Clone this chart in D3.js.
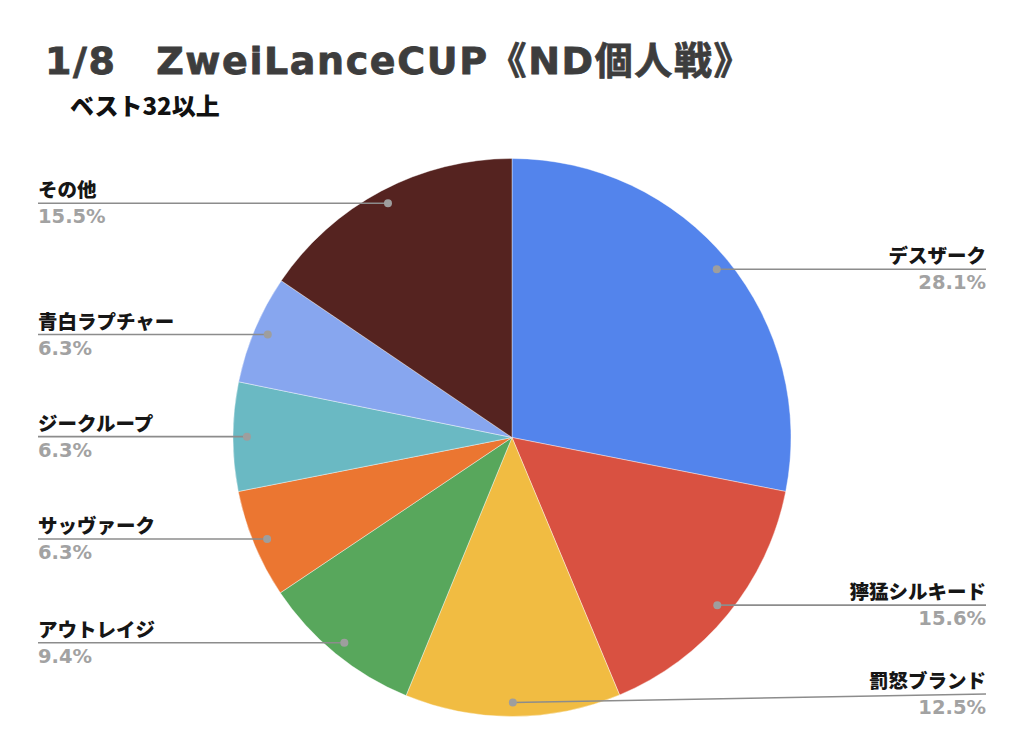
<!DOCTYPE html>
<html>
<head>
<meta charset="utf-8">
<script src="https://cdn.jsdelivr.net/npm/d3@7"></script>
<style>
  body { margin: 0; background: #fff; }
  svg { display: block; }
  .latin { font-family: "DejaVu Sans", "Noto Sans CJK JP", sans-serif; font-weight: bold; }
</style>
</head>
<body>
<svg id="chart" width="1024" height="739"></svg>
<script>
const titleText = '1/8\u3000ZweiLanceCUP《ND個人戦》';
const subtitleText = 'ベスト32以上';

const names = ['デスザーク', '獰猛シルキード', '罰怒ブランド', 'アウトレイジ', 'サッヴァーク', 'ジークループ', '青白ラプチャー', 'その他'];
const shares = [28.1, 15.6, 12.5, 9.4, 6.3, 6.3, 6.3, 15.5];
const colors = ['#5384ec', '#d95141', '#f1bc42', '#58a75c', '#eb7631', '#6ab9c3', '#87a6ef', '#552320'];

const svg = d3.select('#chart');

const cx = 512;
const cy = 437.5;
const radius = 279;
const dotRadius = radius * 0.95;
const leftX = 38;
const rightX = 986;
const maxLineY = 694;

svg.append('text')
  .attr('class', 'latin')
  .attr('x', 45)
  .attr('y', 74)
  .attr('font-size', 38)
  .attr('letter-spacing', 1.6)
  .attr('fill', '#3d3d3d')
  .attr('stroke', '#3d3d3d')
  .attr('stroke-width', 0.8)
  .text(titleText);

svg.append('text')
  .attr('x', 70)
  .attr('y', 115)
  .attr('font-family', '"Noto Sans CJK JP", sans-serif')
  .attr('font-weight', 900)
  .attr('font-size', 24)
  .attr('fill', '#111')
  .text(subtitleText);

const data = names.map((name, i) => ({ name, value: shares[i], color: colors[i] }));

const pie = d3.pie().sort(null).value((d) => d.value);
const arcs = pie(data);

const arc = d3.arc().innerRadius(0).outerRadius(radius);
const dotArc = d3.arc().innerRadius(dotRadius).outerRadius(dotRadius);

const g = svg.append('g').attr('transform', `translate(${cx},${cy})`);

g.selectAll('path')
  .data(arcs)
  .enter()
  .append('path')
  .attr('d', arc)
  .attr('fill', (d) => d.data.color)
  .attr('stroke', '#fff')
  .attr('stroke-width', 0.4);

const labels = svg.append('g');

arcs.forEach((d) => {
  const [dx, dy] = dotArc.centroid(d);
  const x = cx + dx;
  const y = cy + dy;
  const mid = (d.startAngle + d.endAngle) / 2;
  const right = mid < Math.PI;
  const lineY = Math.min(y, maxLineY);
  const tx = right ? rightX : leftX;

  labels.append('line')
    .attr('x1', x)
    .attr('y1', y)
    .attr('x2', tx)
    .attr('y2', lineY)
    .attr('stroke', '#8c8c8c')
    .attr('stroke-width', 1.6);

  labels.append('circle')
    .attr('cx', x)
    .attr('cy', y)
    .attr('r', 4)
    .attr('fill', '#9e9e9e');

  labels.append('text')
    .attr('x', tx)
    .attr('y', lineY - 6)
    .attr('text-anchor', right ? 'end' : 'start')
    .attr('font-family', '"Noto Sans CJK JP", sans-serif')
    .attr('font-weight', 900)
    .attr('font-size', 19.5)
    .attr('fill', '#161616')
    .text(d.data.name);

  labels.append('text')
    .attr('class', 'latin')
    .attr('x', tx)
    .attr('y', lineY + 20)
    .attr('text-anchor', right ? 'end' : 'start')
    .attr('font-size', 19.5)
    .attr('fill', '#a2a2a2')
    .text(`${d.data.value.toFixed(1)}%`);
});
</script>
</body>
</html>
